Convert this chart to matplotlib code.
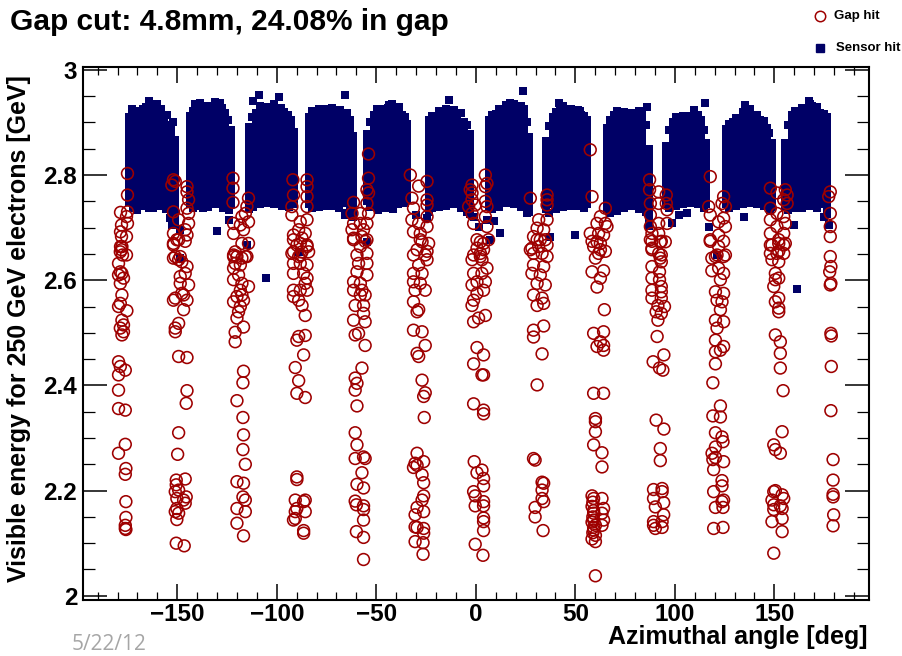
import matplotlib
matplotlib.use("Agg")
import matplotlib.pyplot as plt
from matplotlib.lines import Line2D
from matplotlib.ticker import MultipleLocator, FixedLocator, FixedFormatter

plt.rcParams['font.family'] = ['Liberation Sans', 'DejaVu Sans']
plt.rcParams['font.weight'] = 'bold'

# ---------------- data ----------------
title = "Gap cut: 4.8mm, 24.08% in gap"
xlabel = "Azimuthal angle [deg]"
ylabel = "Visible energy for 250 GeV electrons [GeV]"
legend_labels = ["Gap hit", "Sensor hit"]
ytick_values = [2.0, 2.2, 2.4, 2.6, 2.8, 3.0]
ytick_labels = ["2", "2.2", "2.4", "2.6", "2.8", "3"]
xtick_values = [-150, -100, -50, 0, 50, 100, 150]
date_text = "5/22/12"

# Sensor hits: dense blocks read column by column (angle, [energies])
sensor_A = [(-174.0, [2.749,2.761,2.772,2.786,2.799,2.810,2.824,2.838,2.850,2.863,2.877,2.889,2.902,2.910]),
            (-170.5, [2.744,2.756,2.769,2.783,2.795,2.808,2.821,2.835,2.848,2.861,2.874,2.887,2.899,2.912,2.921]),
            (-167.0, [2.750,2.763,2.775,2.788,2.801,2.815,2.828,2.840,2.854,2.867,2.880,2.893,2.906,2.918,2.925]),
            (-163.5, [2.746,2.758,2.771,2.785,2.797,2.811,2.824,2.837,2.851,2.864,2.877,2.890,2.903,2.915,2.922]),
            (-160.0, [2.748,2.760,2.774,2.787,2.800,2.813,2.826,2.839,2.853,2.866,2.879,2.892,2.905,2.918,2.929]),
            (-156.5, [2.745,2.757,2.770,2.784,2.797,2.810,2.823,2.837,2.850,2.863,2.876,2.889,2.902,2.912]),
            (-153.0, [2.726,2.739,2.752,2.766,2.779,2.792,2.805,2.819,2.832,2.845,2.858,2.871,2.884,2.896]),
            (-151.0, [2.707,2.720,2.733,2.747,2.760,2.773,2.787,2.800,2.813,2.826,2.840,2.853,2.866])]
sensor_B = [(-143.5, [2.744,2.757,2.770,2.782,2.796,2.809,2.822,2.835,2.848,2.861,2.874,2.887,2.900,2.913]),
            (-140.0, [2.748,2.761,2.773,2.787,2.800,2.812,2.826,2.839,2.851,2.865,2.878,2.891,2.904,2.917,2.928]),
            (-136.5, [2.750,2.762,2.776,2.789,2.802,2.815,2.828,2.841,2.855,2.868,2.881,2.894,2.907,2.920,2.930]),
            (-133.0, [2.747,2.760,2.773,2.786,2.799,2.812,2.825,2.838,2.852,2.865,2.878,2.891,2.904,2.916,2.925]),
            (-129.5, [2.752,2.765,2.778,2.791,2.804,2.817,2.830,2.843,2.856,2.870,2.883,2.896,2.909,2.921,2.930]),
            (-126.0, [2.748,2.761,2.774,2.787,2.800,2.813,2.826,2.840,2.853,2.866,2.879,2.892,2.905,2.918]),
            (-123.0, [2.744,2.757,2.770,2.783,2.796,2.809,2.822,2.836,2.849,2.862,2.875,2.886])]
sensor_C = [(-114.0, [2.735,2.748,2.761,2.774,2.787,2.800,2.813,2.827,2.840,2.853,2.866,2.879,2.892]),
            (-110.5, [2.748,2.761,2.774,2.787,2.800,2.813,2.826,2.839,2.852,2.866,2.879,2.892,2.905,2.918]),
            (-107.0, [2.752,2.765,2.778,2.791,2.804,2.817,2.830,2.843,2.857,2.870,2.883,2.896,2.909,2.922,2.927]),
            (-103.5, [2.755,2.768,2.781,2.794,2.807,2.820,2.833,2.846,2.859,2.872,2.885,2.898,2.911,2.920]),
            (-100.0, [2.754,2.767,2.780,2.793,2.806,2.819,2.832,2.845,2.858,2.871,2.884,2.897,2.910,2.923]),
            (-96.5, [2.752,2.765,2.778,2.791,2.804,2.817,2.830,2.843,2.856,2.869,2.882,2.895,2.908,2.920]),
            (-93.0, [2.750,2.763,2.776,2.789,2.802,2.815,2.828,2.841,2.854,2.867,2.880,2.893,2.905]),
            (-91.5, [2.745,2.758,2.771,2.784,2.797,2.810,2.823,2.836,2.849,2.862,2.875,2.882])]
sensor_D = [(-84.0, [2.745,2.758,2.771,2.784,2.797,2.810,2.823,2.836,2.849,2.862,2.875,2.888,2.901,2.910]),
            (-80.5, [2.748,2.761,2.774,2.787,2.800,2.813,2.826,2.839,2.852,2.865,2.878,2.891,2.904,2.917]),
            (-77.0, [2.750,2.763,2.776,2.789,2.802,2.815,2.828,2.841,2.854,2.867,2.880,2.893,2.906,2.915]),
            (-73.5, [2.752,2.765,2.778,2.791,2.804,2.817,2.830,2.843,2.856,2.869,2.882,2.895,2.908,2.918]),
            (-70.0, [2.750,2.763,2.776,2.789,2.802,2.815,2.828,2.841,2.854,2.867,2.880,2.893,2.906,2.915]),
            (-66.5, [2.747,2.760,2.773,2.786,2.799,2.812,2.825,2.838,2.851,2.864,2.877,2.890,2.903,2.913]),
            (-63.0, [2.735,2.748,2.761,2.774,2.787,2.800,2.813,2.826,2.839,2.852,2.865,2.878,2.891,2.905]),
            (-61.5, [2.720,2.733,2.746,2.759,2.772,2.785,2.798,2.811,2.824,2.837,2.850,2.863,2.874])]
sensor_E = [(-54.5, [2.750,2.763,2.776,2.789,2.802,2.815,2.828,2.841,2.854,2.867,2.878]),
            (-51.0, [2.745,2.758,2.771,2.784,2.797,2.810,2.823,2.836,2.849,2.862,2.875,2.888,2.901,2.914]),
            (-47.5, [2.740,2.753,2.766,2.779,2.792,2.805,2.818,2.831,2.844,2.857,2.870,2.883,2.896,2.909,2.918]),
            (-44.0, [2.748,2.761,2.774,2.787,2.800,2.813,2.826,2.839,2.852,2.865,2.878,2.891,2.904,2.917,2.928]),
            (-40.5, [2.752,2.765,2.778,2.791,2.804,2.817,2.830,2.843,2.856,2.869,2.882,2.895,2.908,2.920]),
            (-37.0, [2.755,2.768,2.781,2.794,2.807,2.820,2.833,2.846,2.859,2.872,2.885,2.898,2.911,2.915]),
            (-34.5, [2.755,2.768,2.781,2.794,2.807,2.820,2.833,2.846,2.859,2.872,2.885,2.898])]
sensor_F = [(-23.5, [2.730,2.743,2.756,2.769,2.782,2.795,2.808,2.821,2.834,2.847,2.860,2.873,2.886,2.899,2.905]),
            (-20.0, [2.748,2.761,2.774,2.787,2.800,2.813,2.826,2.839,2.852,2.865,2.878,2.891,2.904,2.912]),
            (-16.5, [2.750,2.763,2.776,2.789,2.802,2.815,2.828,2.841,2.854,2.867,2.880,2.893,2.906,2.915]),
            (-13.0, [2.752,2.765,2.778,2.791,2.804,2.817,2.830,2.843,2.856,2.869,2.882,2.895,2.908,2.915]),
            (-9.5, [2.750,2.763,2.776,2.789,2.802,2.815,2.828,2.841,2.854,2.867,2.880,2.893,2.906,2.912]),
            (-6.0, [2.745,2.758,2.771,2.784,2.797,2.810,2.823,2.836,2.849,2.862,2.875,2.888,2.900]),
            (-3.0, [2.725,2.738,2.751,2.764,2.777,2.790,2.803,2.816,2.829,2.842,2.855,2.868,2.878])]
sensor_G = [(6.5, [2.740,2.753,2.766,2.779,2.792,2.805,2.818,2.831,2.844,2.857,2.870,2.883,2.896,2.905]),
            (10.0, [2.748,2.761,2.774,2.787,2.800,2.813,2.826,2.839,2.852,2.865,2.878,2.891,2.904,2.917]),
            (13.5, [2.752,2.765,2.778,2.791,2.804,2.817,2.830,2.843,2.856,2.869,2.882,2.895,2.908,2.920]),
            (17.0, [2.755,2.768,2.781,2.794,2.807,2.820,2.833,2.846,2.859,2.872,2.885,2.898,2.911,2.924,2.930]),
            (20.5, [2.752,2.765,2.778,2.791,2.804,2.817,2.830,2.843,2.856,2.869,2.882,2.895,2.908,2.921,2.925]),
            (24.0, [2.748,2.761,2.774,2.787,2.800,2.813,2.826,2.839,2.852,2.865,2.878,2.891,2.904,2.917,2.925]),
            (26.5, [2.730,2.743,2.756,2.769,2.782,2.795,2.808,2.821,2.834,2.847,2.860,2.873])]
sensor_H = [(35.5, [2.735,2.748,2.761,2.774,2.787,2.800,2.813,2.826,2.839,2.852,2.865]),
            (39.0, [2.745,2.758,2.771,2.784,2.797,2.810,2.823,2.836,2.849,2.862,2.875,2.888,2.901,2.910]),
            (42.5, [2.748,2.761,2.774,2.787,2.800,2.813,2.826,2.839,2.852,2.865,2.878,2.891,2.904,2.917,2.925]),
            (46.0, [2.750,2.763,2.776,2.789,2.802,2.815,2.828,2.841,2.854,2.867,2.880,2.893,2.906,2.918]),
            (49.5, [2.750,2.763,2.776,2.789,2.802,2.815,2.828,2.841,2.854,2.867,2.880,2.893,2.906,2.915]),
            (53.0, [2.750,2.763,2.776,2.789,2.802,2.815,2.828,2.841,2.854,2.867,2.880,2.893,2.906,2.915]),
            (56.0, [2.745,2.758,2.771,2.784,2.797,2.810,2.823,2.836,2.849,2.862,2.875,2.888,2.900,2.905])]
sensor_I = [(66.0, [2.735,2.748,2.761,2.774,2.787,2.800,2.813,2.826,2.839,2.852,2.865,2.878,2.890]),
            (69.5, [2.740,2.753,2.766,2.779,2.792,2.805,2.818,2.831,2.844,2.857,2.870,2.883,2.896,2.909,2.915]),
            (73.0, [2.745,2.758,2.771,2.784,2.797,2.810,2.823,2.836,2.849,2.862,2.875,2.888,2.901,2.914]),
            (76.5, [2.750,2.763,2.776,2.789,2.802,2.815,2.828,2.841,2.854,2.867,2.880,2.893,2.906,2.910]),
            (80.0, [2.745,2.758,2.771,2.784,2.797,2.810,2.823,2.836,2.849,2.862,2.875,2.888,2.901,2.914]),
            (83.5, [2.740,2.753,2.766,2.779,2.792,2.805,2.818,2.831,2.844,2.857,2.870,2.883,2.896,2.909,2.915]),
            (87.0, [2.730,2.743,2.756,2.769,2.782,2.795,2.808,2.821,2.834,2.847,2.850])]
sensor_J = [(95.5, [2.745,2.758,2.771,2.784,2.797,2.810,2.823,2.836,2.849,2.855]),
            (99.0, [2.748,2.761,2.774,2.787,2.800,2.813,2.826,2.839,2.852,2.865,2.878,2.891,2.900]),
            (102.5, [2.752,2.765,2.778,2.791,2.804,2.817,2.830,2.843,2.856,2.869,2.882,2.895,2.905]),
            (106.0, [2.755,2.768,2.781,2.794,2.807,2.820,2.833,2.846,2.859,2.872,2.885,2.898,2.905]),
            (109.5, [2.755,2.768,2.781,2.794,2.807,2.820,2.833,2.846,2.859,2.872,2.885,2.898,2.910]),
            (113.0, [2.752,2.765,2.778,2.791,2.804,2.817,2.830,2.843,2.856,2.869,2.882,2.895,2.905]),
            (115.5, [2.745,2.758,2.771,2.784,2.797,2.810,2.823,2.836,2.849,2.860])]
sensor_K = [(125.5, [2.745,2.758,2.771,2.784,2.797,2.810,2.823,2.836,2.849,2.862,2.875,2.888]),
            (129.0, [2.750,2.763,2.776,2.789,2.802,2.815,2.828,2.841,2.854,2.867,2.880,2.893,2.900]),
            (132.5, [2.752,2.765,2.778,2.791,2.804,2.817,2.830,2.843,2.856,2.869,2.882,2.895,2.905]),
            (136.0, [2.755,2.768,2.781,2.794,2.807,2.820,2.833,2.846,2.859,2.872,2.885,2.898,2.911,2.920]),
            (139.5, [2.755,2.768,2.781,2.794,2.807,2.820,2.833,2.846,2.859,2.872,2.885,2.898,2.910]),
            (143.0, [2.752,2.765,2.778,2.791,2.804,2.817,2.830,2.843,2.856,2.869,2.882,2.895,2.905]),
            (146.5, [2.748,2.761,2.774,2.787,2.800,2.813,2.826,2.839,2.852,2.865,2.878,2.890]),
            (149.0, [2.740,2.753,2.766,2.779,2.792,2.805,2.818,2.831,2.844,2.857,2.860])]
sensor_L = [(155.5, [2.740,2.753,2.766,2.779,2.792,2.805,2.818,2.831,2.844,2.857,2.860]),
            (159.0, [2.745,2.758,2.771,2.784,2.797,2.810,2.823,2.836,2.849,2.862,2.875,2.888,2.901,2.914]),
            (162.5, [2.745,2.758,2.771,2.784,2.797,2.810,2.823,2.836,2.849,2.862,2.875,2.888,2.901,2.914,2.918]),
            (166.0, [2.748,2.761,2.774,2.787,2.800,2.813,2.826,2.839,2.852,2.865,2.878,2.891,2.904,2.917,2.925]),
            (169.5, [2.750,2.763,2.776,2.789,2.802,2.815,2.828,2.841,2.854,2.867,2.880,2.893,2.906,2.919,2.925]),
            (173.0, [2.745,2.758,2.771,2.784,2.797,2.810,2.823,2.836,2.849,2.862,2.875,2.888,2.901,2.914,2.918]),
            (176.5, [2.725,2.738,2.751,2.764,2.777,2.790,2.803,2.816,2.829,2.842,2.855,2.868,2.881,2.894,2.907,2.910])]

# Sensor hits on the ragged upper and lower edges of each block
sensor_edges = [(-172.5,2.925),(-165.5,2.930),(-162.0,2.934),(-158.0,2.925),(-155.0,2.915),(-152.0,2.900),
                (-172.0,2.737),(-168.0,2.741),(-162.0,2.738),(-158.0,2.742),(-155.5,2.735),
                (-142.0,2.922),(-138.5,2.937),(-135.0,2.932),(-131.0,2.938),(-127.5,2.928),(-124.5,2.905),
                (-142.0,2.738),(-138.5,2.741),(-134.5,2.740),(-131.0,2.744),(-127.0,2.738),(-124.0,2.733),
                (-112.5,2.910),(-108.5,2.932),(-105.0,2.930),(-101.5,2.935),(-98.0,2.928),(-94.5,2.915),
                (-112.0,2.740),(-108.5,2.744),(-105.0,2.747),(-101.5,2.745),(-97.5,2.742),(-94.0,2.740),
                (-82.5,2.922),(-79.0,2.925),(-75.5,2.926),(-72.0,2.928),(-68.0,2.923),(-64.5,2.918),
                (-82.5,2.737),(-79.0,2.740),(-75.5,2.742),(-72.0,2.741),(-68.5,2.738),(-64.5,2.728),
                (-53.0,2.900),(-49.5,2.925),(-46.0,2.926),(-42.0,2.935),(-38.5,2.926),(-35.5,2.910),
                (-53.0,2.740),(-49.0,2.733),(-46.0,2.737),(-42.5,2.742),(-39.0,2.745),(-35.5,2.746),
                (-22.0,2.913),(-18.5,2.922),(-15.0,2.925),(-11.0,2.923),(-7.5,2.918),(-4.5,2.895),
                (-22.0,2.737),(-18.5,2.740),(-15.0,2.742),(-11.0,2.744),(-7.5,2.738),(-4.5,2.730),
                (8.0,2.915),(11.5,2.926),(15.0,2.933),(19.0,2.935),(22.5,2.932),(25.5,2.900),
                (8.0,2.735),(11.5,2.740),(15.0,2.746),(19.0,2.744),(22.5,2.740),(25.5,2.728),
                (37.0,2.893),(40.5,2.920),(44.0,2.932),(48.0,2.925),(51.5,2.923),(54.5,2.913),
                (37.0,2.727),(40.5,2.736),(44.0,2.740),(48.0,2.742),(51.5,2.742),(54.5,2.737),
                (67.5,2.905),(71.0,2.922),(74.5,2.920),(78.0,2.918),(82.0,2.922),(85.5,2.895),
                (67.5,2.728),(71.0,2.732),(74.5,2.738),(78.0,2.741),(82.0,2.735),(85.5,2.730),
                (97.0,2.885),(100.5,2.910),(104.0,2.913),(107.5,2.912),(111.5,2.915),(114.5,2.885),
                (97.0,2.738),(100.5,2.742),(104.0,2.745),(107.5,2.747),(111.5,2.745),(114.5,2.738),
                (127.0,2.898),(130.5,2.908),(134.0,2.920),(138.0,2.925),(141.5,2.915),(145.0,2.903),(147.5,2.880),
                (127.0,2.738),(130.5,2.742),(134.0,2.745),(138.0,2.747),(141.5,2.745),(145.0,2.741),(148.0,2.733),
                (157.0,2.895),(160.5,2.922),(164.0,2.928),(168.0,2.935),(171.5,2.930),(175.0,2.917),
                (157.0,2.733),(160.5,2.737),(164.0,2.738),(168.0,2.741),(171.5,2.738),(175.0,2.720)]

sensor_isolated = [(-170.3,2.733),(-164.4,2.738),(-153.5,2.718),(-152.7,2.705),(-148.5,2.696),(-148.5,2.642),
                   (-137.0,2.738),(-130.0,2.694),(-124.2,2.715),(-115.0,2.667),(-105.5,2.604),(-89.0,2.654),
                   (-65.6,2.724),(-54.7,2.673),(-43.8,2.738),(-41.5,2.736),(-30.0,2.724),(-24.5,2.718),
                   (-1.1,2.721),(1.4,2.702),(5.6,2.715),(9.0,2.712),(12.3,2.689),(7.3,2.677),(37.4,2.683),
                   (50.0,2.686),(67.6,2.730),(86.8,2.715),(86.8,2.704),(98.6,2.708),(101.9,2.724),
                   (106.1,2.727),(117.0,2.702),(121.2,2.648),(134.6,2.721),(159.7,2.705),(161.4,2.583),
                   (177.5,2.705),(-164.0,2.940),(-160.2,2.935),(-141.0,2.935),(-128.4,2.937),(-111.7,2.940),
                   (-109.0,2.952),(-99.0,2.948),(-65.6,2.952),(-43.8,2.933),(-38.8,2.930),(-13.7,2.943),
                   (17.3,2.937),(23.7,2.959),(41.6,2.937),(52.5,2.921),(86.0,2.929),(109.5,2.924),
                   (115.3,2.937),(135.4,2.933),(167.2,2.940),(169.0,2.932)]

# Gap hits (angle, energy) per gap column
gap_m180 = [(-175.0,2.803),(-175.0,2.762),(-178.5,2.729),(-175.0,2.730),(-175.5,2.721),(-178.0,2.705),(-178.5,2.692),
            (-175.0,2.708),(-178.0,2.683),(-175.5,2.683),(-178.5,2.664),(-178.0,2.658),(-177.5,2.648),(-175.5,2.648),
            (-177.8,2.664),(-178.6,2.654),(-179.5,2.632),(-178.6,2.616),(-179.5,2.610),(-177.8,2.613),(-177.0,2.604),
            (-178.6,2.594),(-177.8,2.572),(-178.6,2.556),(-179.5,2.550),(-175.3,2.542),(-177.8,2.524),(-177.0,2.515),
            (-178.6,2.509),(-177.8,2.496),(-177.0,2.502),(-179.5,2.445),(-178.6,2.436),(-176.1,2.429),(-179.5,2.420),
            (-179.5,2.391),(-179.5,2.356),(-176.1,2.353),(-176.1,2.288),(-179.5,2.271),(-175.8,2.242),(-176.1,2.231),
            (-175.8,2.179),(-175.8,2.149),(-176.1,2.134),(-176.1,2.128),(-175.8,2.126)]
gap_m150 = [(-151.9,2.791),(-152.7,2.781),(-151.0,2.788),(-145.1,2.778),(-145.1,2.768),(-144.3,2.753),(-145.1,2.737),
            (-144.3,2.727),(-151.9,2.730),(-149.3,2.715),(-144.3,2.708),(-146.0,2.696),(-151.9,2.689),(-145.1,2.686),
            (-149.3,2.677),(-151.9,2.667),(-151.0,2.645),(-148.5,2.645),(-151.9,2.670),(-150.2,2.677),(-146.0,2.674),
            (-151.9,2.642),(-149.3,2.639),(-147.7,2.635),(-145.1,2.626),(-146.0,2.613),(-148.5,2.607),(-148.5,2.594),
            (-144.3,2.591),(-147.7,2.575),(-146.8,2.572),(-151.0,2.566),(-151.9,2.562),(-145.1,2.562),(-146.8,2.544),
            (-149.3,2.518),(-151.0,2.509),(-151.0,2.502),(-149.3,2.455),(-145.1,2.453),(-145.1,2.390),(-145.5,2.366),
            (-149.3,2.310),(-149.8,2.269),(-146.0,2.222),(-150.5,2.220),(-150.5,2.211),(-149.3,2.201),(-151.0,2.198),
            (-145.5,2.188),(-146.8,2.182),(-150.2,2.185),(-146.0,2.176),(-150.2,2.166),(-151.0,2.160),(-149.3,2.157),
            (-150.2,2.145),(-150.5,2.100),(-146.5,2.095)]
gap_m120 = [(-122.0,2.794),(-122.0,2.775),(-122.0,2.748),(-114.2,2.756),(-115.0,2.740),(-115.8,2.727),(-117.5,2.721),
            (-114.2,2.711),(-121.7,2.708),(-118.3,2.705),(-121.7,2.689),(-116.7,2.696),(-117.5,2.670),(-114.2,2.670),
            (-120.9,2.654),(-121.7,2.645),(-115.8,2.645),(-121.7,2.648),(-120.0,2.645),(-117.5,2.642),(-115.0,2.645),
            (-120.9,2.632),(-118.3,2.629),(-121.7,2.623),(-119.2,2.610),(-121.7,2.601),(-117.5,2.594),(-114.2,2.588),
            (-118.3,2.581),(-117.5,2.572),(-120.0,2.569),(-121.7,2.559),(-116.7,2.562),(-118.3,2.550),(-119.2,2.540),
            (-120.0,2.528),(-116.7,2.511),(-120.9,2.501),(-120.9,2.483),(-116.7,2.427),(-117.0,2.405),(-120.0,2.371),
            (-117.0,2.339),(-116.7,2.306),(-117.0,2.278),(-115.8,2.250),(-120.0,2.217),(-116.7,2.214),(-117.0,2.188),
            (-115.8,2.182),(-120.0,2.166),(-115.8,2.160),(-120.0,2.138),(-116.7,2.114)]
gap_m90 = [(-91.9,2.791),(-84.8,2.791),(-91.6,2.762),(-84.8,2.778),(-84.8,2.759),(-92.4,2.740),(-84.8,2.740),
           (-92.4,2.724),(-88.2,2.711),(-84.8,2.715),(-89.0,2.696),(-91.6,2.686),(-85.7,2.689),(-87.3,2.680),
           (-89.9,2.667),(-84.8,2.667),(-91.6,2.654),(-87.3,2.654),(-84.0,2.654),(-89.0,2.645),(-91.6,2.677),
           (-88.2,2.670),(-84.8,2.664),(-92.4,2.651),(-88.2,2.648),(-91.6,2.632),(-88.2,2.632),(-84.8,2.629),
           (-91.6,2.613),(-86.5,2.613),(-84.8,2.604),(-85.7,2.594),(-91.6,2.581),(-88.2,2.581),(-84.8,2.581),
           (-91.6,2.569),(-89.0,2.562),(-87.3,2.552),(-85.7,2.533),(-89.0,2.493),(-85.7,2.495),(-89.9,2.486),
           (-86.5,2.458),(-90.7,2.434),(-89.0,2.409),(-89.9,2.385),(-85.7,2.377),(-89.9,2.226),(-89.9,2.221),
           (-90.7,2.182),(-85.7,2.182),(-86.5,2.179),(-89.9,2.166),(-90.7,2.160),(-85.7,2.160),(-90.7,2.147),
           (-91.6,2.144),(-86.5,2.124),(-86.5,2.119)]
gap_m60 = [(-53.9,2.840),(-53.9,2.794),(-54.7,2.772),(-53.9,2.766),(-61.4,2.748),(-54.7,2.746),(-62.2,2.727),
           (-58.0,2.727),(-53.9,2.727),(-61.4,2.708),(-58.0,2.708),(-54.7,2.708),(-62.2,2.696),(-56.4,2.696),
           (-61.4,2.680),(-57.2,2.683),(-54.7,2.677),(-58.0,2.664),(-59.7,2.648),(-54.7,2.651),(-61.4,2.677),
           (-55.6,2.674),(-58.9,2.632),(-54.7,2.632),(-59.7,2.616),(-54.7,2.610),(-61.4,2.597),(-58.0,2.594),
           (-61.4,2.581),(-57.2,2.581),(-58.0,2.572),(-55.6,2.572),(-60.6,2.552),(-56.4,2.552),(-61.4,2.524),
           (-55.6,2.521),(-56.4,2.537),(-60.6,2.496),(-58.9,2.499),(-55.6,2.476),(-57.2,2.433),(-60.6,2.414),
           (-59.7,2.404),(-60.6,2.391),(-59.7,2.361),(-60.6,2.310),(-59.7,2.287),(-60.6,2.261),(-56.4,2.264),
           (-55.6,2.261),(-57.2,2.234),(-59.7,2.212),(-56.4,2.205),(-60.6,2.180),(-60.0,2.173),(-56.4,2.171),
           (-56.4,2.164),(-56.4,2.144),(-60.0,2.122),(-56.4,2.111),(-56.4,2.069)]
gap_m30 = [(-32.9,2.800),(-28.7,2.779),(-24.5,2.788),(-32.1,2.756),(-31.3,2.737),(-24.5,2.753),(-24.5,2.743),
           (-32.1,2.715),(-28.7,2.708),(-24.5,2.721),(-24.5,2.702),(-31.3,2.692),(-27.9,2.689),(-27.0,2.673),
           (-23.7,2.670),(-29.5,2.658),(-24.5,2.655),(-31.3,2.648),(-25.4,2.648),(-27.9,2.677),(-24.5,2.639),
           (-28.7,2.629),(-31.3,2.613),(-27.0,2.613),(-31.3,2.597),(-27.9,2.594),(-25.4,2.581),(-30.5,2.581),
           (-31.3,2.559),(-28.7,2.544),(-29.5,2.540),(-31.3,2.505),(-27.0,2.502),(-25.4,2.476),(-29.5,2.461),
           (-28.7,2.455),(-27.0,2.410),(-25.4,2.386),(-26.2,2.379),(-25.9,2.339),(-29.5,2.271),(-30.5,2.252),
           (-29.5,2.248),(-31.3,2.244),(-26.2,2.255),(-27.0,2.230),(-26.2,2.215),(-26.2,2.190),(-27.0,2.182),
           (-29.5,2.168),(-26.2,2.160),(-30.5,2.154),(-30.5,2.131),(-29.5,2.130),(-26.2,2.128),(-26.2,2.119),
           (-30.5,2.103),(-26.5,2.101),(-26.5,2.079)]
gap_0 = [(-1.9,2.781),(-2.8,2.772),(-1.9,2.766),(-1.9,2.753),(-3.6,2.740),(-0.3,2.743),(-1.9,2.727),(-1.1,2.708),
         (4.8,2.800),(5.6,2.784),(4.8,2.778),(4.8,2.750),(5.6,2.740),(4.8,2.721),(5.6,2.702),(6.4,2.677),(2.3,2.673),
         (0.6,2.661),(3.9,2.658),(-1.1,2.648),(2.3,2.645),(0.6,2.677),(3.9,2.670),(2.3,2.651),(-1.9,2.639),(3.1,2.639),
         (5.6,2.623),(-1.1,2.613),(3.1,2.613),(0.6,2.597),(4.8,2.597),(-1.9,2.591),(3.9,2.581),(0.6,2.575),(-1.1,2.562),
         (-1.9,2.552),(4.8,2.533),(1.4,2.528),(-1.1,2.521),(0.6,2.472),(3.9,2.458),(-1.1,2.441),(3.1,2.420),(3.9,2.420),
         (-1.1,2.365),(3.9,2.353),(3.9,2.346),(-0.8,2.255),(0.6,2.234),(3.1,2.239),(3.9,2.223),(3.9,2.209),(-1.1,2.198),
         (-0.3,2.190),(3.9,2.179),(-0.3,2.171),(3.9,2.171),(3.9,2.148),(3.9,2.141),(3.9,2.124),(-0.3,2.098),(3.6,2.077)]
gap_30 = [(27.4,2.756),(35.8,2.762),(35.8,2.753),(35.8,2.743),(31.6,2.715),(35.8,2.715),(30.8,2.699),(34.1,2.696),
          (29.0,2.683),(32.4,2.677),(34.9,2.677),(28.2,2.661),(31.6,2.664),(35.8,2.667),(29.0,2.651),(33.3,2.651),
          (30.8,2.677),(27.4,2.658),(35.8,2.645),(29.0,2.629),(34.1,2.626),(28.2,2.613),(32.4,2.610),(30.8,2.594),
          (34.9,2.591),(29.0,2.572),(33.3,2.566),(30.8,2.552),(34.1,2.556),(29.0,2.505),(34.1,2.513),(29.0,2.492),
          (33.3,2.460),(30.8,2.401),(29.0,2.261),(29.8,2.258),(33.3,2.216),(34.1,2.214),(33.3,2.201),(33.3,2.185),
          (34.1,2.179),(29.8,2.168),(29.8,2.150),(33.8,2.124)]
gap_60 = [(57.5,2.848),(58.4,2.759),(62.6,2.721),(65.1,2.737),(60.9,2.708),(65.1,2.708),(65.9,2.702),(64.2,2.686),
          (60.9,2.673),(62.6,2.658),(65.1,2.655),(59.2,2.664),(61.7,2.689),(57.5,2.689),(58.4,2.674),(62.6,2.670),
          (61.7,2.651),(60.1,2.642),(58.4,2.616),(64.2,2.618),(62.6,2.604),(60.9,2.587),(64.6,2.544),(59.2,2.499),
          (64.2,2.502),(60.9,2.474),(64.2,2.476),(64.2,2.467),(62.6,2.483),(59.2,2.385),(64.2,2.385),(60.1,2.337),
          (60.1,2.331),(60.1,2.312),(59.2,2.287),(63.4,2.272),(63.4,2.245),(59.2,2.185),(63.4,2.185),(64.2,2.166),
          (59.2,2.157),(63.4,2.157),(59.2,2.144),(64.2,2.144),(60.1,2.134),(63.4,2.134),(59.2,2.125),(60.1,2.115),
          (60.1,2.103),(60.1,2.038),(58.4,2.190),(58.8,2.178),(58.4,2.170),(59.2,2.162),(58.8,2.150),(58.4,2.140),
          (59.2,2.130),(58.8,2.120),(58.4,2.108)]
gap_90 = [(87.3,2.791),(87.3,2.772),(91.9,2.768),(95.7,2.762),(87.7,2.746),(91.9,2.746),(95.7,2.746),(96.1,2.734),
          (87.7,2.724),(87.7,2.702),(91.9,2.708),(96.1,2.708),(88.5,2.689),(91.9,2.689),(92.7,2.673),(87.7,2.677),
          (95.2,2.673),(88.5,2.658),(91.9,2.651),(92.7,2.642),(88.5,2.674),(93.2,2.674),(88.5,2.661),(93.2,2.648),
          (93.2,2.635),(88.5,2.626),(92.3,2.616),(88.5,2.604),(92.3,2.601),(93.2,2.588),(88.5,2.581),(93.2,2.578),
          (88.5,2.566),(93.2,2.566),(91.5,2.552),(94.8,2.550),(90.6,2.540),(93.2,2.537),(91.5,2.524),(91.1,2.493),
          (94.5,2.458),(89.1,2.445),(92.3,2.433),(94.0,2.429),(90.6,2.334),(94.5,2.317),(92.7,2.280),(92.7,2.257),
          (89.3,2.202),(93.6,2.204),(89.3,2.185),(93.6,2.198),(94.4,2.177),(90.2,2.169),(94.4,2.154),(89.3,2.141),
          (93.6,2.141),(89.3,2.134),(93.6,2.130),(90.2,2.128)]
gap_120 = [(117.8,2.797),(117.0,2.740),(117.8,2.724),(117.8,2.677),(120.4,2.645),(122.0,2.711),(122.0,2.686),
           (122.0,2.664),(123.7,2.746),(124.5,2.759),(125.4,2.740),(124.5,2.718),(125.4,2.702),(124.5,2.645),
           (117.8,2.674),(124.5,2.674),(121.2,2.648),(118.6,2.642),(125.4,2.648),(118.6,2.618),(122.0,2.623),
           (124.5,2.613),(122.9,2.601),(120.4,2.578),(124.5,2.575),(121.2,2.562),(123.7,2.559),(122.9,2.544),
           (120.4,2.524),(124.5,2.521),(121.2,2.509),(120.4,2.486),(124.5,2.474),(120.4,2.464),(122.9,2.467),
           (120.4,2.441),(119.1,2.405),(122.9,2.361),(119.1,2.342),(122.9,2.340),(120.4,2.310),(123.7,2.302),
           (124.2,2.293),(120.4,2.283),(118.7,2.271),(120.4,2.263),(119.1,2.259),(124.5,2.255),(119.5,2.240),
           (123.7,2.219),(123.7,2.209),(119.5,2.198),(124.5,2.182),(123.7,2.179),(120.4,2.168),(124.2,2.168),
           (119.5,2.128),(124.2,2.130)]
gap_150 = [(148.0,2.775),(151.3,2.766),(155.5,2.772),(156.4,2.762),(154.7,2.753),(156.4,2.746),(148.0,2.737),
           (151.3,2.727),(154.7,2.721),(148.0,2.715),(155.5,2.708),(151.3,2.702),(148.0,2.689),(154.7,2.689),
           (152.2,2.677),(148.8,2.667),(155.5,2.670),(152.2,2.655),(148.0,2.651),(154.7,2.651),(148.0,2.667),
           (152.2,2.670),(154.7,2.667),(151.3,2.651),(148.8,2.639),(152.2,2.635),(150.5,2.613),(152.2,2.604),
           (150.5,2.601),(149.7,2.588),(150.5,2.559),(152.2,2.566),(152.2,2.547),(152.2,2.540),(150.5,2.496),
           (153.0,2.483),(153.0,2.461),(153.0,2.433),(154.4,2.390),(153.9,2.312),(149.7,2.287),(150.5,2.278),
           (153.0,2.271),(149.7,2.198),(150.5,2.200),(153.9,2.192),(148.8,2.182),(154.7,2.185),(149.7,2.173),
           (153.0,2.171),(153.9,2.166),(149.7,2.164),(148.8,2.141),(153.9,2.147),(153.9,2.122),(149.7,2.081)]
gap_180 = [(178.1,2.768),(177.3,2.759),(178.1,2.727),(178.1,2.702),(178.1,2.683),(178.1,2.645),(178.4,2.626),
           (177.8,2.616),(178.4,2.594),(178.1,2.591),(178.4,2.499),(178.6,2.494),(178.6,2.436),(178.4,2.352),
           (179.5,2.259),(179.5,2.220),(179.5,2.193),(179.5,2.188),(179.8,2.154),(179.5,2.133)]

# ---------------- assemble ----------------
sensor_blocks = [sensor_A, sensor_B, sensor_C, sensor_D, sensor_E, sensor_F,
                 sensor_G, sensor_H, sensor_I, sensor_J, sensor_K, sensor_L]
sx, sy = [], []
for block in sensor_blocks:
    for ang, energies in block:
        for e in energies:
            sx.append(ang)
            sy.append(e)
for ang, e in sensor_edges + sensor_isolated:
    sx.append(ang)
    sy.append(e)

gap_columns = [gap_m180, gap_m150, gap_m120, gap_m90, gap_m60, gap_m30, gap_0,
               gap_30, gap_60, gap_90, gap_120, gap_150, gap_180]
gx = [p[0] for col in gap_columns for p in col]
gy = [p[1] for col in gap_columns for p in col]

navy = '#000066'
darkred = '#9e0000'

W, H = 903, 656
fig = plt.figure(figsize=(W / 100, H / 100), dpi=100)
fig.patch.set_facecolor('white')
ax = fig.add_axes([82.7 / W, 1 - 600 / H, (869.3 - 82.7) / W, (600 - 66.7) / H])

ax.scatter(sx, sy, marker='s', s=35, color=navy, linewidths=0, zorder=2)
ax.scatter(gx, gy, marker='o', s=72, facecolors='none', edgecolors=darkred,
           linewidths=1.15, zorder=3)

ax.set_xlim(-197.5, 197.7)
ax.set_ylim(1.992, 3.006)

ax.xaxis.set_major_locator(FixedLocator(xtick_values))
ax.xaxis.set_minor_locator(MultipleLocator(10))
ax.yaxis.set_major_locator(FixedLocator(ytick_values))
ax.yaxis.set_major_formatter(FixedFormatter(ytick_labels))
ax.yaxis.set_minor_locator(MultipleLocator(0.05))

ax.tick_params(axis='x', which='major', direction='in', length=11.5, width=1.1,
               top=True, bottom=True, labelsize=17.5, pad=2)
ax.tick_params(axis='x', which='minor', direction='in', length=5.8, width=0.9,
               top=True, bottom=True)
ax.tick_params(axis='y', which='major', direction='in', length=17, width=1.1,
               left=True, right=True, labelsize=17.5, pad=4)
ax.tick_params(axis='y', which='minor', direction='in', length=8.5, width=0.9,
               left=True, right=True)
for lab in ax.get_xticklabels() + ax.get_yticklabels():
    lab.set_fontweight('bold')
for sp in ax.spines.values():
    sp.set_linewidth(1.5)

# axis titles
fig.text(868 / W, 1 - 637 / H, xlabel, ha='right', va='center',
         fontsize=18, fontweight='bold')
fig.text(19 / W, 1 - 329 / H, ylabel, ha='center', va='center', rotation=90,
         fontsize=18, fontweight='bold')

# title
fig.text(10 / W, 1 - 22 / H, title, ha='left', va='center',
         fontsize=21.5, fontweight='bold')

# legend (manual, ROOT style)
fig.add_artist(Line2D([820 / W], [1 - 16 / H], transform=fig.transFigure, marker='o',
                      markersize=7.5, markerfacecolor='none', markeredgecolor=darkred,
                      markeredgewidth=1.1, linestyle='none'))
fig.add_artist(Line2D([820 / W], [1 - 48 / H], transform=fig.transFigure, marker='s',
                      markersize=5.5, markerfacecolor=navy, markeredgecolor=navy,
                      linestyle='none'))
fig.text(834 / W, 1 - 16 / H, legend_labels[0], ha='left', va='center',
         fontsize=9.5, fontweight='bold')
fig.text(836 / W, 1 - 48 / H, legend_labels[1], ha='left', va='center',
         fontsize=9.5, fontweight='bold')

# date footer at the bottom-left corner
fig.text(72 / W, 1.5 / H, date_text, ha='left', va='bottom', fontsize=15,
         color='#a6a6a6', fontweight='normal', family=['Open Sans', 'DejaVu Sans'])

fig.savefig('out.png', dpi=100)
